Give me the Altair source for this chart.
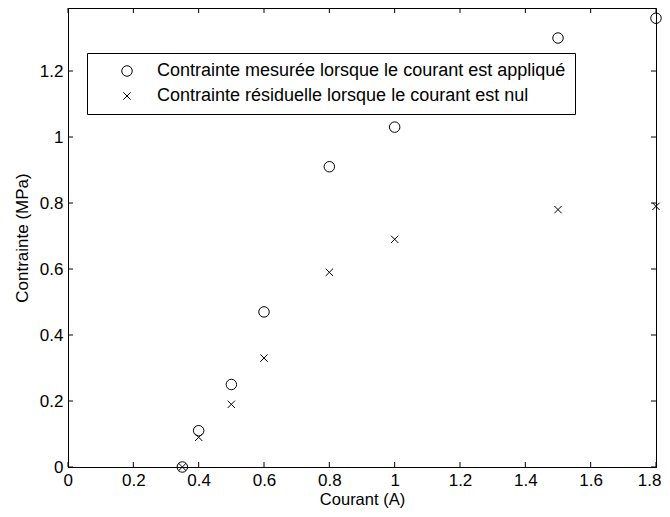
import altair as alt
import pandas as pd

courant = [0.35, 0.4, 0.5, 0.6, 0.8, 1.0, 1.5, 1.8]
contrainte_appliquee = [0.0, 0.11, 0.25, 0.47, 0.91, 1.03, 1.30, 1.36]
contrainte_residuelle = [0.0, 0.09, 0.19, 0.33, 0.59, 0.69, 0.78, 0.79]

serie_1 = "Contrainte mesurée lorsque le courant est appliqué"
serie_2 = "Contrainte résiduelle lorsque le courant est nul"

x_ticks = [0, 0.2, 0.4, 0.6, 0.8, 1.0, 1.2, 1.4, 1.6, 1.8]
y_ticks = [0, 0.2, 0.4, 0.6, 0.8, 1.0, 1.2]

W, H = 588, 459
FONT = "Liberation Sans"
FS = 17
CROSS = "M-0.7,-0.7L0.7,0.7M-0.7,0.7L0.7,-0.7"

df = pd.DataFrame({
    "courant": courant + courant,
    "contrainte": contrainte_appliquee + contrainte_residuelle,
    "serie": [serie_1] * len(courant) + [serie_2] * len(courant),
})
dx = pd.DataFrame({"t": x_ticks})
dy = pd.DataFrame({"t": y_ticks})

xscale = alt.Scale(domain=[0, 1.8], nice=False, zero=False)
yscale = alt.Scale(domain=[0, 1.391], nice=False, zero=False)

points = alt.Chart(df).mark_point(filled=False, color="black", size=110, strokeWidth=1, opacity=1).encode(
    x=alt.X("courant:Q", scale=xscale, title="Courant (A)",
            axis=alt.Axis(values=x_ticks, format="~g", tickSize=0, labelPadding=5,
                          labelFlush=True, labelFlushOffset=5, titleFontSize=16.5,
                          titlePadding=3, domainColor="black", grid=False)),
    y=alt.Y("contrainte:Q", scale=yscale, title="Contrainte (MPa)",
            axis=alt.Axis(values=y_ticks, format="~g", tickSize=0, labelPadding=5,
                          titlePadding=8, domainColor="black", grid=False)),
    shape=alt.Shape("serie:N", title=None,
                    scale=alt.Scale(domain=[serie_1, serie_2], range=["circle", CROSS]),
                    legend=alt.Legend(orient="none", legendX=19, legendY=45, padding=9,
                                      strokeColor="black", fillColor="white", cornerRadius=0,
                                      symbolOffset=22, labelOffset=21, rowPadding=7,
                                      symbolSize=110, symbolStrokeColor="black",
                                      symbolStrokeWidth=1, symbolFillColor="transparent",
                                      labelFontSize=18, labelFont=FONT, labelColor="black",
                                      labelLimit=700)),
)

tick_bottom = alt.Chart(dx).mark_rule(color="black", strokeWidth=1).encode(
    x=alt.X("t:Q", scale=xscale), y=alt.value(H), y2=alt.value(H - 5))
tick_top = alt.Chart(dx).mark_rule(color="black", strokeWidth=1).encode(
    x=alt.X("t:Q", scale=xscale), y=alt.value(0), y2=alt.value(5))
tick_left = alt.Chart(dy).mark_rule(color="black", strokeWidth=1).encode(
    y=alt.Y("t:Q", scale=yscale), x=alt.value(0), x2=alt.value(5))
tick_right = alt.Chart(dy).mark_rule(color="black", strokeWidth=1).encode(
    y=alt.Y("t:Q", scale=yscale), x=alt.value(W), x2=alt.value(W - 5))

chart = alt.layer(tick_bottom, tick_top, tick_left, tick_right, points).properties(
    width=W, height=H,
    autosize=alt.AutoSizeParams(type="none"),
    padding={"left": 60, "top": 0, "right": 6, "bottom": 42},
).configure(background="white").configure_view(
    stroke="black", strokeWidth=1
).configure_axis(
    labelFont=FONT, titleFont=FONT, labelFontSize=FS, titleFontSize=FS,
    labelColor="black", titleColor="black", titleFontWeight="normal",
)

chart.save("out.html", embed_options={"renderer": "svg", "actions": False})
